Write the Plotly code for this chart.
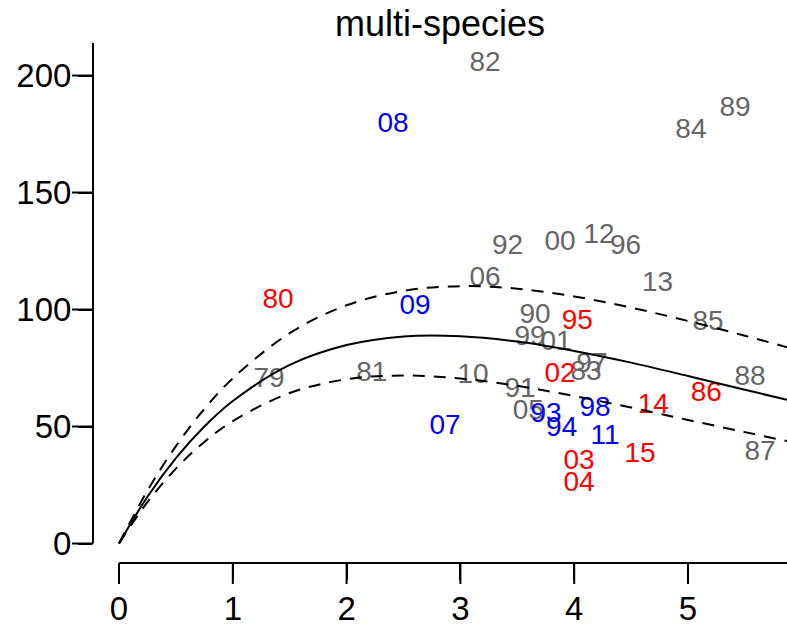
import plotly.graph_objects as go

# ---- data: labelled points (year codes) by colour group ----
labels_gray = ["82", "89", "84", "92", "00", "12", "96", "06", "13", "90", "85",
               "99", "01", "97", "83", "79", "81", "10", "88", "91", "05", "87"]
x_gray = [3.216, 5.413, 5.026, 3.414, 3.875, 4.218, 4.451, 3.216, 4.732, 3.656, 5.176,
          3.612, 3.840, 4.156, 4.104, 1.318, 2.221, 3.111, 5.545, 3.524, 3.597, 5.633]
y_gray = [205.1, 185.7, 176.3, 126.9, 128.4, 131.6, 126.7, 113.2, 110.7, 97.4, 94.4,
          87.7, 85.6, 76.5, 73.0, 69.9, 72.4, 71.6, 70.9, 65.6, 56.3, 38.5]

labels_blue = ["08", "09", "07", "93", "98", "94", "11"]
x_blue = [2.408, 2.601, 2.865, 3.752, 4.183, 3.890, 4.271]
y_blue = [178.9, 100.9, 49.7, 54.9, 57.5, 48.8, 45.6]

labels_red = ["80", "95", "02", "86", "14", "15", "03", "04"]
x_red = [1.397, 4.027, 3.875, 5.161, 4.695, 4.578, 4.042, 4.042]
y_red = [103.8, 94.8, 72.2, 63.7, 58.6, 37.8, 34.8, 25.4]

# ---- fitted curve and its bounds ----
curve_x = [0, 0.25, 0.5, 0.75, 1.0, 1.5, 2.0, 2.5, 3.0, 3.5, 4.0, 4.5, 5.0, 5.5, 5.87]
fit_y = [0, 20.0, 36.5, 50.0, 60.9, 76.3, 84.8, 88.5, 88.6, 86.3, 82.3, 77.3, 71.6, 65.7, 61.4]
upper_y = [0, 22.6, 41.6, 57.5, 70.6, 89.9, 101.8, 108.0, 110.0, 108.9, 105.6, 100.8, 95.1, 88.8, 83.9]
lower_y = [0, 17.7, 32.0, 43.4, 52.3, 64.3, 70.2, 71.8, 70.5, 67.4, 63.0, 58.1, 52.8, 47.6, 43.8]

x_ticks = [0, 1, 2, 3, 4, 5]
y_ticks = [0, 50, 100, 150, 200]
title_text = "multi-species"

X_RANGE = [-0.2285, 5.870]
Y_RANGE = [-8.33, 213.9]
FONT = "Liberation Sans, Arial, Helvetica, sans-serif"
PLOT_W = 787 - 93   # plot area width in px
PLOT_H = 624 - 43 - 61  # plot area height in px
TICK_LEN = 21

fig = go.Figure()

for labs, xs, ys, col in [(labels_gray, x_gray, y_gray, "#666666"),
                          (labels_blue, x_blue, y_blue, "#0000FF"),
                          (labels_red, x_red, y_red, "#FF0000")]:
    fig.add_trace(go.Scatter(x=xs, y=ys, text=labs, mode="text",
                             textposition="middle center",
                             textfont=dict(family=FONT, size=28, color=col),
                             hoverinfo="skip", showlegend=False))

fig.add_trace(go.Scatter(x=curve_x, y=fit_y, mode="lines",
                         line=dict(color="black", width=2, shape="spline"),
                         hoverinfo="skip", showlegend=False))
for ys in (upper_y, lower_y):
    fig.add_trace(go.Scatter(x=curve_x, y=ys, mode="lines",
                             line=dict(color="black", width=2, shape="spline",
                                       dash="12px,9px"),
                             hoverinfo="skip", showlegend=False))

# axis lines as in the original (from first tick to plot edge)
fig.add_shape(type="line", xref="paper", yref="y", x0=0, x1=0, y0=0, y1=Y_RANGE[1],
              line=dict(color="black", width=2))
fig.add_shape(type="line", xref="x", yref="paper", x0=0, x1=X_RANGE[1], y0=0, y1=0,
              line=dict(color="black", width=2))
# full-length tick marks (axis ticks are shorter so the labels sit close)
for v in y_ticks:
    fig.add_shape(type="line", xref="paper", yref="y", x0=-TICK_LEN / PLOT_W, x1=0,
                  y0=v, y1=v, line=dict(color="black", width=2))
for v in x_ticks:
    fig.add_shape(type="line", xref="x", yref="paper", x0=v, x1=v,
                  y0=-TICK_LEN / PLOT_H, y1=0, line=dict(color="black", width=2))

fig.update_layout(
    template="none",
    width=787, height=624,
    margin=dict(l=93, r=0, t=43, b=61, autoexpand=False),
    paper_bgcolor="white", plot_bgcolor="white",
    title=dict(text=title_text, x=440 / 787, xanchor="center",
               yref="container", y=1 - 23.5 / 624, yanchor="middle",
               font=dict(family=FONT, size=36, color="black")),
    xaxis=dict(range=X_RANGE, tickvals=x_ticks, ticktext=[str(v) for v in x_ticks],
               ticks="outside", ticklen=16, tickwidth=2, tickcolor="black",
               showline=False, zeroline=False, showgrid=False, automargin=False,
               tickfont=dict(family=FONT, size=33, color="black")),
    yaxis=dict(range=Y_RANGE, tickvals=y_ticks, ticktext=[str(v) for v in y_ticks],
               ticks="outside", ticklen=14, tickwidth=2, tickcolor="black",
               showline=False, zeroline=False, showgrid=False, automargin=False,
               tickfont=dict(family=FONT, size=33, color="black")),
)

fig.write_html("out.html", config={"displayModeBar": False},
               post_script="document.body.style.margin='0px';")
